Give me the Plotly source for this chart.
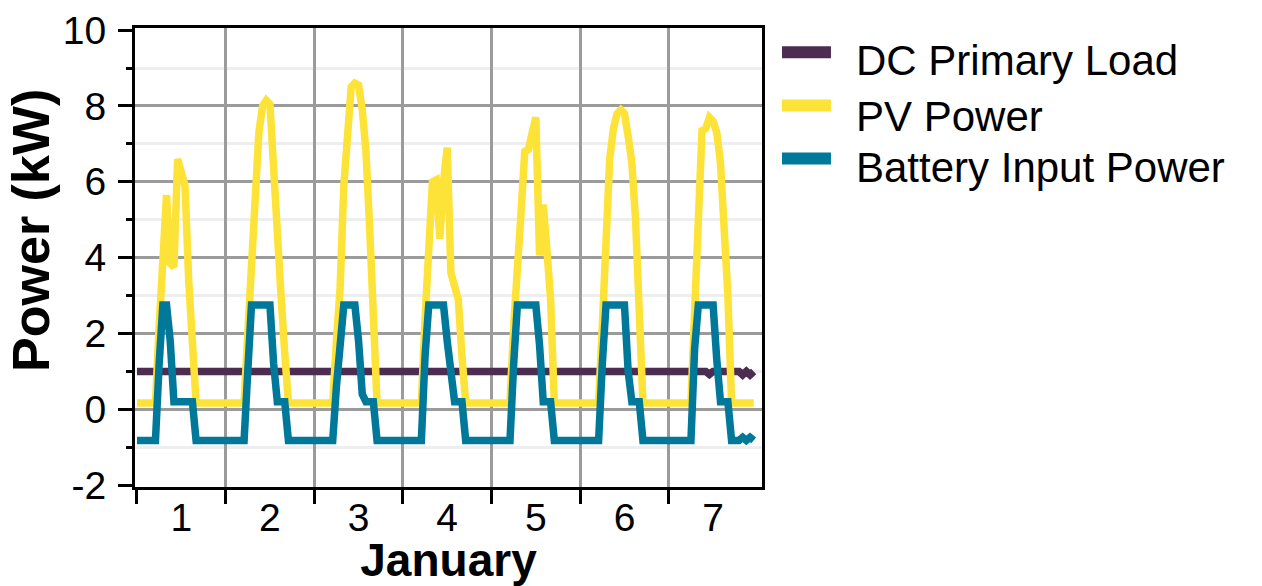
import plotly.graph_objects as go

# ---------------- data (hourly, first week of January) ----------------
hours = list(range(168))

day_labels = ["1", "2", "3", "4", "5", "6", "7"]
day_label_pos = [12, 36, 60, 84, 108, 132, 156]
day_bounds = [0, 24, 48, 72, 96, 120, 144]

y_major = [-2, 0, 2, 4, 6, 8, 10]
y_major_text = ["-2", "0", "2", "4", "6", "8", "10"]
y_minor = [-1, 1, 3, 5, 7, 9]
y_grid = [0, 2, 4, 6, 8]

series_names = ["DC Primary Load", "PV Power", "Battery Input Power"]

dc_primary_load = [
    1.0, 1.0, 1.0, 1.0, 1.0, 1.0, 1.0, 1.0, 1.0, 1.0, 1.0, 1.0, 1.0, 1.0, 1.0, 1.0, 1.0, 1.0, 1.0, 1.0, 1.0, 1.0, 1.0, 1.0,
    1.0, 1.0, 1.0, 1.0, 1.0, 1.0, 1.0, 1.0, 1.0, 1.0, 1.0, 1.0, 1.0, 1.0, 1.0, 1.0, 1.0, 1.0, 1.0, 1.0, 1.0, 1.0, 1.0, 1.0,
    1.0, 1.0, 1.0, 1.0, 1.0, 1.0, 1.0, 1.0, 1.0, 1.0, 1.0, 1.0, 1.0, 1.0, 1.0, 1.0, 1.0, 1.0, 1.0, 1.0, 1.0, 1.0, 1.0, 1.0,
    1.0, 1.0, 1.0, 1.0, 1.0, 1.0, 1.0, 1.0, 1.0, 1.0, 1.0, 1.0, 1.0, 1.0, 1.0, 1.0, 1.0, 1.0, 1.0, 1.0, 1.0, 1.0, 1.0, 1.0,
    1.0, 1.0, 1.0, 1.0, 1.0, 1.0, 1.0, 1.0, 1.0, 1.0, 1.0, 1.0, 1.0, 1.0, 1.0, 1.0, 1.0, 1.0, 1.0, 1.0, 1.0, 1.0, 1.0, 1.0,
    1.0, 1.0, 1.0, 1.0, 1.0, 1.0, 1.0, 1.0, 1.0, 1.0, 1.0, 1.0, 1.0, 1.0, 1.0, 1.0, 1.0, 1.0, 1.0, 1.0, 1.0, 1.0, 1.0, 1.0,
    1.0, 1.0, 1.0, 1.0, 1.0, 1.0, 1.0, 1.0, 1.0, 1.0, 1.0, 0.92, 1.0, 1.0, 1.0, 1.0, 1.0, 1.0, 1.0, 1.0, 0.91, 1.0, 0.91, 1.0,
]

pv_power = [
    0.17, 0.17, 0.17, 0.17, 0.17, 0.17, 2.2, 3.8, 5.65, 3.85, 3.75, 6.6, 6.2, 5.9, 3.4, 1.5, 0.17, 0.17, 0.17, 0.17, 0.17, 0.17, 0.17, 0.17,
    0.17, 0.17, 0.17, 0.17, 0.17, 0.17, 2.0, 4.0, 6.0, 7.3, 8.0, 8.15, 8.05, 6.6, 4.7, 3.0, 1.5, 0.17, 0.17, 0.17, 0.17, 0.17, 0.17, 0.17,
    0.17, 0.17, 0.17, 0.17, 0.17, 0.17, 1.8, 3.2, 5.9, 7.5, 8.5, 8.6, 8.55, 7.9, 6.8, 4.8, 2.6, 0.17, 0.17, 0.17, 0.17, 0.17, 0.17, 0.17,
    0.17, 0.17, 0.17, 0.17, 0.17, 0.17, 2.4, 4.6, 6.0, 6.05, 4.5, 6.0, 6.9, 3.6, 3.2, 2.9, 1.4, 0.17, 0.17, 0.17, 0.17, 0.17, 0.17, 0.17,
    0.17, 0.17, 0.17, 0.17, 0.17, 0.17, 2.2, 4.15, 5.2, 6.8, 6.85, 7.3, 7.7, 4.06, 5.4, 4.2, 2.9, 0.17, 0.17, 0.17, 0.17, 0.17, 0.17, 0.17,
    0.17, 0.17, 0.17, 0.17, 0.17, 0.17, 2.2, 4.3, 6.6, 7.4, 7.8, 7.9, 7.8, 7.2, 6.5, 5.0, 3.0, 0.17, 0.17, 0.17, 0.17, 0.17, 0.17, 0.17,
    0.17, 0.17, 0.17, 0.17, 0.17, 0.17, 0.17, 2.6, 5.6, 7.35, 7.4, 7.7, 7.6, 7.3, 6.5, 5.0, 3.0, 0.17, 0.17, 0.17, 0.17, 0.17, 0.17, 0.17,
]

battery_input_power = [
    -0.82, -0.82, -0.82, -0.82, -0.82, -0.82, 1.2, 2.75, 2.75, 1.8, 0.2, 0.2, 0.2, 0.2, 0.2, 0.2, -0.82, -0.82, -0.82, -0.82, -0.82, -0.82, -0.82, -0.82,
    -0.82, -0.82, -0.82, -0.82, -0.82, -0.82, 1.0, 2.75, 2.75, 2.75, 2.75, 2.75, 2.75, 1.2, 0.2, 0.2, 0.2, -0.82, -0.82, -0.82, -0.82, -0.82, -0.82, -0.82,
    -0.82, -0.82, -0.82, -0.82, -0.82, -0.82, 0.6, 2.0, 2.75, 2.75, 2.75, 2.75, 1.8, 0.4, 0.2, 0.2, 0.2, -0.82, -0.82, -0.82, -0.82, -0.82, -0.82, -0.82,
    -0.82, -0.82, -0.82, -0.82, -0.82, -0.82, 1.4, 2.75, 2.75, 2.75, 2.75, 2.75, 1.8, 1.0, 0.2, 0.2, 0.2, -0.82, -0.82, -0.82, -0.82, -0.82, -0.82, -0.82,
    -0.82, -0.82, -0.82, -0.82, -0.82, -0.82, 1.2, 2.75, 2.75, 2.75, 2.75, 2.75, 2.75, 1.7, 0.2, 0.2, 0.2, -0.82, -0.82, -0.82, -0.82, -0.82, -0.82, -0.82,
    -0.82, -0.82, -0.82, -0.82, -0.82, -0.82, 1.2, 2.75, 2.75, 2.75, 2.75, 2.75, 2.75, 1.0, 0.2, 0.2, 0.2, -0.82, -0.82, -0.82, -0.82, -0.82, -0.82, -0.82,
    -0.82, -0.82, -0.82, -0.82, -0.82, -0.82, -0.82, 1.6, 2.75, 2.75, 2.75, 2.75, 2.75, 1.3, 0.2, 0.2, 0.2, -0.82, -0.82, -0.82, -0.74, -0.82, -0.74, -0.82,
]

# ---------------- styling ----------------
FONT = "Arial, 'Liberation Sans', sans-serif"
C_LOAD = "#4D2C52"
C_PV = "#FDE338"
C_BATT = "#007899"
GRID_DARK = "#9B9B9B"
GRID_LIGHT = "#EEEEEE"
X_RANGE = [-0.54, 169.24]
Y_RANGE = [-2.048, 10.056]
LINE_W = 7.5

fig = go.Figure()
fig.add_trace(go.Scatter(x=hours, y=dc_primary_load, name=series_names[0], mode="lines",
                         line=dict(color=C_LOAD, width=LINE_W), showlegend=False))
fig.add_trace(go.Scatter(x=hours, y=pv_power, name=series_names[1], mode="lines",
                         line=dict(color=C_PV, width=LINE_W), showlegend=False))
fig.add_trace(go.Scatter(x=hours, y=battery_input_power, name=series_names[2], mode="lines",
                         line=dict(color=C_BATT, width=LINE_W), showlegend=False,
                         xaxis="x2", yaxis="y2"))

fig.update_layout(
    width=1262, height=586,
    margin=dict(l=135, r=500, t=28, b=99, pad=0),
    paper_bgcolor="white", plot_bgcolor="white",
    font=dict(family=FONT, size=39, color="black"),
    showlegend=False,
    xaxis=dict(
        range=X_RANGE, tickmode="array", tickvals=day_label_pos, ticktext=day_labels,
        ticks="", showgrid=False, zeroline=False, automargin=False,
        showline=True, linecolor="black", linewidth=3, mirror=True,
        tickfont=dict(family=FONT, size=39, color="black"), ticklabelstandoff=-6,
        title=dict(text="<b>January</b>", font=dict(family=FONT, size=46, color="black"), standoff=8),
        minor=dict(tickmode="array", tickvals=day_bounds, ticks="outside", ticklen=14,
                   tickwidth=3, tickcolor="black", showgrid=False),
    ),
    xaxis2=dict(
        overlaying="x", anchor="y2", range=X_RANGE, tickmode="array", tickvals=day_bounds[1:],
        showticklabels=False, ticks="", showgrid=True, gridcolor=GRID_DARK, gridwidth=3,
        zeroline=False, showline=False, automargin=False,
    ),
    yaxis=dict(
        range=Y_RANGE, tickmode="array", tickvals=y_major, ticktext=y_major_text,
        ticks="outside", ticklen=14, tickwidth=3, tickcolor="black",
        showgrid=False, zeroline=False, automargin=False,
        showline=True, linecolor="black", linewidth=3, mirror=True,
        tickfont=dict(family=FONT, size=39, color="black"), ticklabelstandoff=4,
        minor=dict(tickmode="array", tickvals=y_minor, ticks="outside", ticklen=6,
                   tickwidth=3, tickcolor="black", showgrid=True, gridcolor=GRID_LIGHT, gridwidth=3),
    ),
    yaxis2=dict(
        overlaying="y", anchor="x2", range=Y_RANGE, tickmode="array", tickvals=y_grid,
        showticklabels=False, ticks="", showgrid=True, gridcolor=GRID_DARK, gridwidth=3,
        zeroline=False, showline=False, automargin=False,
    ),
)

# y-axis title (sits a little above the plot's vertical centre, as in the reference)
fig.add_annotation(text="<b>Power (kW)</b>", xref="paper", yref="paper", x=-0.166, y=0.56,
                   xanchor="center", yanchor="middle", textangle=-90, showarrow=False,
                   font=dict(family=FONT, size=52, color="black"))

# ---------------- legend (right of the plot) ----------------
legend_colors = [C_LOAD, C_PV, C_BATT]
swatch_y = [0.947, 0.8314, 0.7158]
text_y = [0.929, 0.8076, 0.6968]
for name, color, sy, ty in zip(series_names, legend_colors, swatch_y, text_y):
    fig.add_shape(type="line", xref="paper", yref="paper", x0=1.0319, x1=1.110, y0=sy, y1=sy,
                  line=dict(color=color, width=12))
    fig.add_annotation(text=name, xref="paper", yref="paper", x=1.1467, y=ty,
                       xanchor="left", yanchor="middle", showarrow=False,
                       font=dict(family=FONT, size=42, color="black"))

fig.write_html(
    "out.html",
    config={"displayModeBar": False},
    post_script="document.body.style.margin='0px';document.body.style.padding='0px';",
)
